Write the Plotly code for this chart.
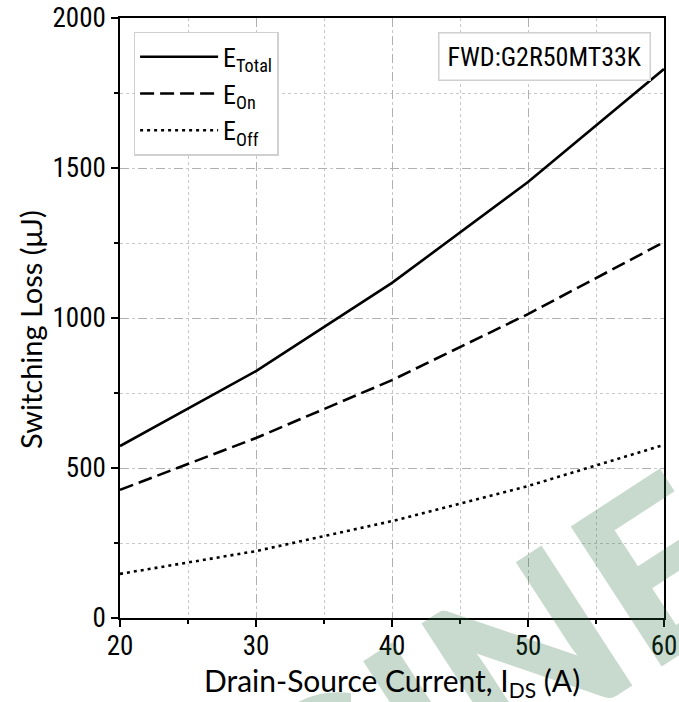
import plotly.graph_objects as go

current = [20, 30, 40, 50, 60]
e_total = [573, 823, 1117, 1453, 1830]
e_on = [427, 600, 793, 1013, 1253]
e_off = [147, 223, 323, 440, 577]

x_ticks = [20, 30, 40, 50, 60]
y_ticks = [0, 500, 1000, 1500, 2000]

x_title = "Drain-Source Current, I<sub>DS</sub> (A)"
y_title = "Switching Loss (μJ)"

narrow = "Liberation Sans Narrow, Roboto Condensed, DejaVu Sans Condensed, Roboto"
tick_font = dict(family=narrow, size=27, color="black")
title_font = dict(family="Lato, Open Sans, sans-serif", size=30, color="black")

fig = go.Figure()
fig.add_trace(go.Scatter(x=current, y=e_total, mode="lines", name="E<sub>Total</sub>",
                         line=dict(color="black", width=2.6, dash="solid")))
fig.add_trace(go.Scatter(x=current, y=e_on, mode="lines", name="E<sub>On</sub>",
                         line=dict(color="black", width=2.6, dash="14px,6px")))
fig.add_trace(go.Scatter(x=current, y=e_off, mode="lines", name="E<sub>Off</sub>",
                         line=dict(color="black", width=2.6, dash="3px,4px")))

axis_common = dict(
    showline=True, linecolor="black", linewidth=1.5, mirror=True,
    ticks="outside", ticklen=7, tickwidth=1.5, tickcolor="black",
    showgrid=True, gridcolor="#b0b0b0", griddash="dash", gridwidth=1,
    tickfont=tick_font, zeroline=False, automargin=False,
)

fig.update_xaxes(range=[20, 60], tickvals=x_ticks, ticklabelstandoff=-4,
                 minor=dict(dtick=5, ticks="outside", ticklen=4, tickcolor="black",
                            showgrid=True, gridcolor="#c8c8c8", griddash="dot", gridwidth=1),
                 **axis_common)
fig.update_yaxes(range=[0, 2000], tickvals=y_ticks,
                 minor=dict(dtick=250, ticks="outside", ticklen=4, tickcolor="black",
                            showgrid=True, gridcolor="#c8c8c8", griddash="dot", gridwidth=1),
                 **axis_common)

fig.update_layout(
    template="none",
    width=679, height=702,
    margin=dict(l=120, r=15, t=18, b=84),
    plot_bgcolor="white", paper_bgcolor="white",
    showlegend=True,
    legend=dict(x=0.025, y=0.977, xanchor="left", yanchor="top",
                bgcolor="white", bordercolor="#d0d0d0", borderwidth=1.5,
                font=dict(family=narrow, size=26, color="black"),
                itemwidth=78, tracegroupgap=0),
    annotations=[
        dict(text="ENGINEERING", xref="paper", yref="paper", x=0.96, y=0.075,
             xanchor="center", yanchor="middle", showarrow=False, textangle=-33,
             font=dict(family="Lato, DejaVu Sans", size=230, color="rgba(40,110,60,0.256)", weight=900)),
        dict(text="FWD:G2R50MT33K", xref="paper", yref="paper", x=0.976, y=0.977,
             xanchor="right", yanchor="top", showarrow=False,
             font=dict(family=narrow, size=26, color="black"),
             bgcolor="white", bordercolor="#d0d0d0", borderwidth=1.5, borderpad=8),
        dict(text=x_title, xref="paper", yref="paper", x=0.5, y=0, yshift=-64,
             xanchor="center", yanchor="middle", showarrow=False, font=title_font),
        dict(text=y_title, xref="paper", yref="paper", x=0, y=0.48, xshift=-90,
             xanchor="center", yanchor="middle", showarrow=False, textangle=-90,
             font=dict(family="Lato, Open Sans, sans-serif", size=29, color="black")),
    ],
)

fig.write_html("out.html", config={"displayModeBar": False},
               post_script="document.body.style.margin='0px';")
